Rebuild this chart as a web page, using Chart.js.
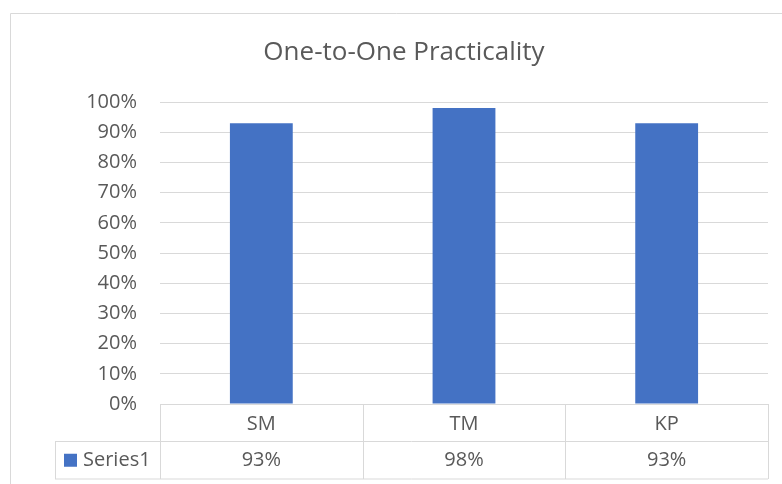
<!DOCTYPE html>
<html><head><meta charset="utf-8">
<script src="https://cdn.jsdelivr.net/npm/chart.js@4"></script>
<style>html,body{margin:0;padding:0;background:#fff;overflow:hidden}</style>
</head><body>
<canvas id="c" width="782" height="484" style="display:block;width:782px;height:484px"></canvas>
<script>
const chartTitle = 'One-to-One Practicality';
const categories = ['SM', 'TM', 'KP'];
const seriesName = 'Series1';
const values = [0.93, 0.98, 0.93];
const yTickValues = [0, 0.1, 0.2, 0.3, 0.4, 0.5, 0.6, 0.7, 0.8, 0.9, 1.0];

const FONT = '"Open Sans", sans-serif';
const TEXT = '#595959';
const LINE = '#d9d9d9';
const BAR = '#4472c4';
const pct = v => Math.round(v * 100) + '%';

const tablePlugin = {
  id: 'excelTable',
  afterDraw(chart) {
    const ctx = chart.ctx;
    const area = chart.chartArea;
    const xs = chart.scales.x;
    const n = categories.length;
    const colW = (area.right - area.left) / n;
    const rowTop = area.bottom;
    const rowMid = area.bottom + 37.5;
    const rowBot = area.bottom + 75;
    const legL = 55;
    ctx.save();
    // outer chart border
    ctx.strokeStyle = LINE;
    ctx.lineWidth = 1;
    ctx.beginPath();
    ctx.moveTo(10.5, 484); ctx.lineTo(10.5, 13.5); ctx.lineTo(782, 13.5);
    ctx.stroke();
    // title
    ctx.fillStyle = TEXT;
    ctx.font = '26px ' + FONT;
    ctx.textAlign = 'center';
    ctx.textBaseline = 'middle';
    ctx.fillText(chartTitle, 404, 53);
    // table lines
    ctx.beginPath();
    ctx.moveTo(area.left, rowTop + 0.5); ctx.lineTo(area.right, rowTop + 0.5);
    ctx.moveTo(legL, rowMid); ctx.lineTo(area.right, rowMid);
    ctx.moveTo(legL, rowBot); ctx.lineTo(area.right, rowBot);
    ctx.moveTo(legL + 0.5, rowMid); ctx.lineTo(legL + 0.5, rowBot);
    for (let i = 0; i <= n; i++) {
      const x = Math.round(area.left + i * colW) + 0.5;
      ctx.moveTo(x, rowTop); ctx.lineTo(x, rowBot);
    }
    ctx.stroke();
    // legend key
    const cy = (rowMid + rowBot) / 2;
    ctx.fillStyle = BAR;
    ctx.fillRect(64, cy - 6.5, 13, 13);
    ctx.fillStyle = TEXT;
    ctx.font = '20px ' + FONT;
    ctx.textAlign = 'left';
    ctx.fillText(seriesName, 83, cy);
    // values row
    ctx.textAlign = 'center';
    values.forEach((v, i) => {
      ctx.fillText(pct(v), xs.getPixelForValue(i), cy);
    });
    ctx.restore();
  }
};

new Chart(document.getElementById('c'), {
  type: 'bar',
  data: {
    labels: categories,
    datasets: [{
      label: seriesName,
      data: values,
      backgroundColor: BAR,
      barPercentage: 1,
      categoryPercentage: 0.31
    }]
  },
  options: {
    responsive: false,
    devicePixelRatio: 1,
    animation: false,
    layout: { padding: { left: 10, right: 14, top: 102, bottom: 0 } },
    plugins: { legend: { display: false }, title: { display: false }, tooltip: { enabled: false } },
    scales: {
      y: {
        min: 0, max: 1,
        afterFit(s) { s.width = 150; },
        afterBuildTicks(s) { s.ticks = yTickValues.map(v => ({ value: v })); },
        grid: { color: LINE, drawTicks: false },
        border: { display: false },
        ticks: { padding: 23, color: TEXT, font: { family: FONT, size: 20 }, callback: v => pct(v) }
      },
      x: {
        afterFit(s) { s.height = 80; },
        grid: { display: false },
        border: { display: false },
        ticks: { padding: 0, color: TEXT, font: { family: FONT, size: 20 } }
      }
    }
  },
  plugins: [tablePlugin]
});
</script>
</body></html>
